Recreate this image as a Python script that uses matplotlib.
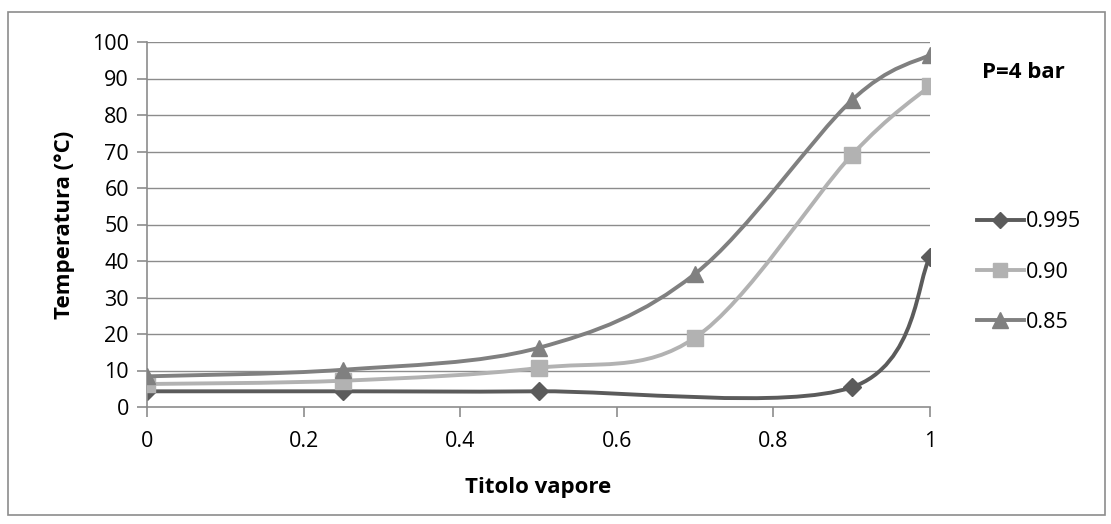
"""Temperatura vs titolo vapore, P=4 bar (Excel-style smoothed lines)."""

import matplotlib

matplotlib.use("Agg")
import matplotlib.pyplot as plt
from matplotlib.lines import Line2D
from matplotlib.patches import PathPatch, Rectangle
from matplotlib.path import Path

plt.rcParams["font.family"] = ["Open Sans", "DejaVu Sans"]

series_labels = ["0.995", "0.90", "0.85"]
x_0995 = [0, 0.25, 0.5, 0.9, 1]
y_0995 = [4.3, 4.3, 4.3, 5.4, 41]
x_090 = [0, 0.25, 0.5, 0.7, 0.9, 1]
y_090 = [6.3, 7.2, 10.7, 19, 69, 88]
x_085 = [0, 0.25, 0.5, 0.7, 0.9, 1]
y_085 = [8.4, 10.2, 16.2, 36.5, 84, 96.5]

x_ticks = [0, 0.2, 0.4, 0.6, 0.8, 1]
x_tick_labels = ["0", "0.2", "0.4", "0.6", "0.8", "1"]
y_ticks = list(range(0, 101, 10))

colors = ["#5b5b5b", "#b2b2b2", "#808080"]
markers = ["D", "s", "^"]
msizes = [9, 11, 12]


def smooth_path(xs, ys):
    # Excel-like smoothing: cubic Bezier with Catmull-Rom control points
    pts = list(zip(xs, ys))
    verts = [pts[0]]
    codes = [Path.MOVETO]
    n = len(pts)
    for i in range(n - 1):
        p0 = pts[i - 1] if i > 0 else pts[i]
        p1 = pts[i]
        p2 = pts[i + 1]
        p3 = pts[i + 2] if i + 2 < n else pts[i + 1]
        c1 = (p1[0] + (p2[0] - p0[0]) / 6, p1[1] + (p2[1] - p0[1]) / 6)
        c2 = (p2[0] - (p3[0] - p1[0]) / 6, p2[1] - (p3[1] - p1[1]) / 6)
        verts += [c1, c2, p2]
        codes += [Path.CURVE4] * 3
    return Path(verts, codes)


fig = plt.figure(figsize=(11.11, 5.24), dpi=100)
ax = fig.add_axes([147 / 1111, 1 - 407 / 524, 783 / 1111, 365 / 524])

fig.patches.append(Rectangle((8 / 1111, 1 - 515 / 524), 1097 / 1111, 503 / 524,
                             transform=fig.transFigure, fill=False,
                             edgecolor="#8c8c8c", linewidth=1.2))

for y in y_ticks[1:]:
    ax.axhline(y, color="#8c8c8c", linewidth=1.0, zorder=0)

data = [(x_0995, y_0995), (x_090, y_090), (x_085, y_085)]
handles = []
for k, (xs, ys) in enumerate(data):
    patch = PathPatch(smooth_path(xs, ys), facecolor="none", edgecolor=colors[k],
                      linewidth=2.8, zorder=2 + k, capstyle="round", joinstyle="round")
    ax.add_patch(patch)
    ax.plot(xs, ys, linestyle="none", marker=markers[k], markersize=msizes[k],
            color=colors[k], markeredgecolor=colors[k], zorder=2.5 + k)
    handles.append(Line2D([], [], color=colors[k], linewidth=2.8, marker=markers[k],
                          markersize=msizes[k] - 1, markeredgecolor=colors[k]))

ax.set_xlim(0, 1)
ax.set_ylim(0, 100)
ax.set_xticks(x_ticks)
ax.set_xticklabels(x_tick_labels)
ax.set_yticks(y_ticks)
ax.tick_params(axis="both", labelsize=15.5, colors="#8c8c8c", labelcolor="black",
               length=7, width=1.2, direction="out")
ax.tick_params(axis="y", pad=6)
ax.tick_params(axis="x", pad=10)
for side in ["top", "right"]:
    ax.spines[side].set_visible(False)
for side in ["left", "bottom"]:
    ax.spines[side].set_color("#8c8c8c")
    ax.spines[side].set_linewidth(1.2)

ax.set_xlabel("Titolo vapore", fontsize=16, fontweight="bold", labelpad=18)
ax.set_ylabel("Temperatura (°C)", fontsize=16, fontweight="bold", labelpad=12)

fig.text(982 / 1111, 1 - 72 / 524, "P=4 bar", fontsize=16, fontweight="bold",
         va="center", ha="left")

fig.legend(handles, series_labels, loc="center left",
           bbox_to_anchor=(968 / 1111, 1 - 272 / 524), frameon=False,
           fontsize=15.5, handlelength=2.2, handletextpad=0.1, labelspacing=1.35,
           borderaxespad=0)

fig.savefig("out.png", dpi=100)
